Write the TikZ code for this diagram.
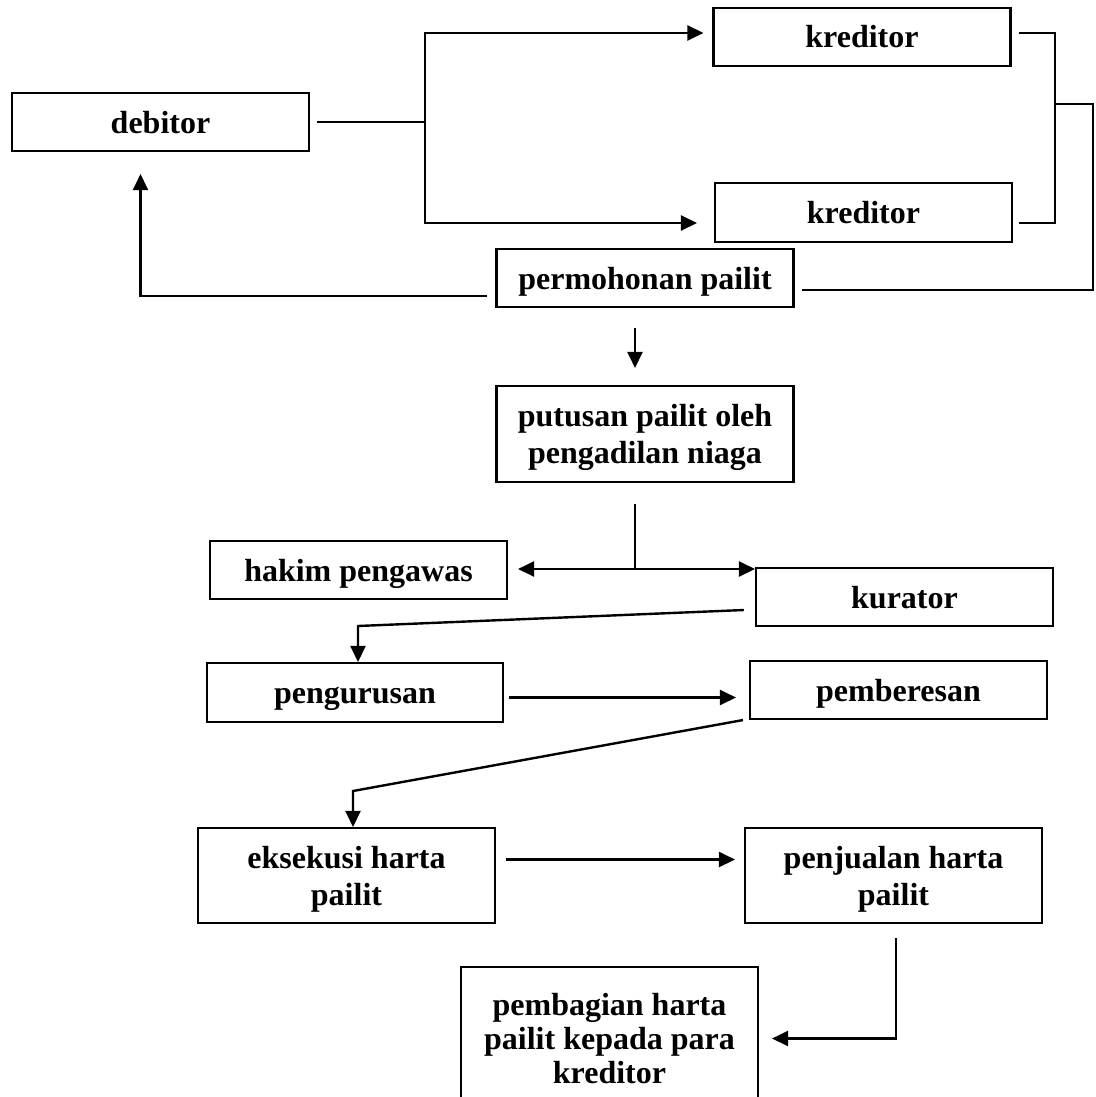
\documentclass[tikz,border=0pt]{standalone}
\usepackage{fontspec}
\setmainfont{Liberation Serif}
\usetikzlibrary{arrows.meta,calc}
\begin{document}
\begin{tikzpicture}[x=1pt,y=-1pt,
  box/.style={draw,line width=2.1pt,inner sep=0pt,align=center,text depth=0pt,
    font=\fontsize{32}{37}\selectfont\bfseries,minimum width=297pt,minimum height=58pt},
  one/.style={text height=22pt},
  ln/.style={line width=1.7pt},
  arr/.style={line width=2.4pt,-{Triangle[length=16pt,width=15pt]}},
  darr/.style={line width=2.4pt,{Triangle[length=16pt,width=15pt]}-{Triangle[length=16pt,width=15pt]}}]
\useasboundingbox (0,0) rectangle (1095,1097);
\clip (0,0) rectangle (1095,1097);
\fill[white] (0,0) rectangle (1095,1097);
% nodes
\node[box,one] (debitor) at (160.5,122) {debitor};
\node[box,one] (kred1) at (862,37) {kreditor};
\node[box,one,minimum height=59pt] (kred2) at (863.5,212.5) {kreditor};
\node[box,one] (perm) at (645,278) {permohonan pailit};
\node[box,minimum height=96pt] (put) at (645,434) {putusan pailit oleh\\pengadilan niaga};
\node[box,one] (hakim) at (358.5,570) {hakim pengawas};
\node[box,one] (kurator) at (904.5,597) {kurator};
\node[box,one,minimum width=296pt,minimum height=59pt] (peng) at (355,692.5) {pengurusan};
\node[box,one] (pemb) at (898.5,690) {pemberesan};
\node[box,minimum height=95pt] (eks) at (346.5,875.5) {eksekusi harta\\pailit};
\node[box,minimum height=95pt] (penj) at (893.5,875.5) {penjualan harta\\pailit};
\node[box,minimum height=143pt,font=\fontsize{32}{34}\selectfont\bfseries] (bagi) at (609.5,1038.5) {pembagian harta\\pailit kepada para\\kreditor};
% junction coordinates
\coordinate (j1) at (425,122);
\coordinate (ja) at (425,33);
\coordinate (jb) at (425,223);
\coordinate (br) at (1055,104);
\coordinate (br2) at (1093,104);
\coordinate (j2) at (635,569);
\coordinate (j3) at (358,626);
\coordinate (j4) at (353,791);
% connectors
\draw[ln,shorten <=7pt] (debitor.east) -- (j1);
\draw[arr,shorten >=9pt] (jb) |- (ja -| kred1.west);
\draw[arr,shorten >=17pt] (ja) |- (jb -| kred2.west);
\draw[ln,shorten <=7pt,shorten >=6pt] (kred1.east |- ja) -| (br) |- (kred2.east |- jb);
\draw[ln,shorten >=7pt] (br) -- (br2) |- ([yshift=-12pt]perm.east);
\draw[arr,shorten <=8pt,shorten >=22pt] ([yshift=-18pt]perm.west) -| ([xshift=-20pt]debitor.south);
\draw[arr,shorten <=20pt,shorten >=17pt] ([xshift=-10pt]perm.south) -- ([xshift=-10pt]put.north);
\draw[ln,shorten <=21pt] ([xshift=-10pt]put.south) -- (j2);
\draw[darr,shorten <=10pt] (j2 -| hakim.east) -- (j2 -| kurator.west);
\draw[arr] ([xshift=-11pt,yshift=-13pt]kurator.west) -- (j3) -- (j3 |- peng.north);
\draw[arr,shorten <=5pt,shorten >=13pt] ([yshift=-5pt]peng.east) -- ([yshift=-5pt]peng.east -| pemb.west);
\draw[arr] ([xshift=-6pt]pemb.south west) -- (j4) -- (j4 |- eks.north);
\draw[arr,shorten <=10pt,shorten >=9pt] ([yshift=16pt]eks.east) -- ([yshift=16pt]penj.west);
\draw[arr,shorten <=14pt,shorten >=13pt] ([xshift=2.5pt]penj.south) |- (bagi.east);
\end{tikzpicture}
\end{document}
